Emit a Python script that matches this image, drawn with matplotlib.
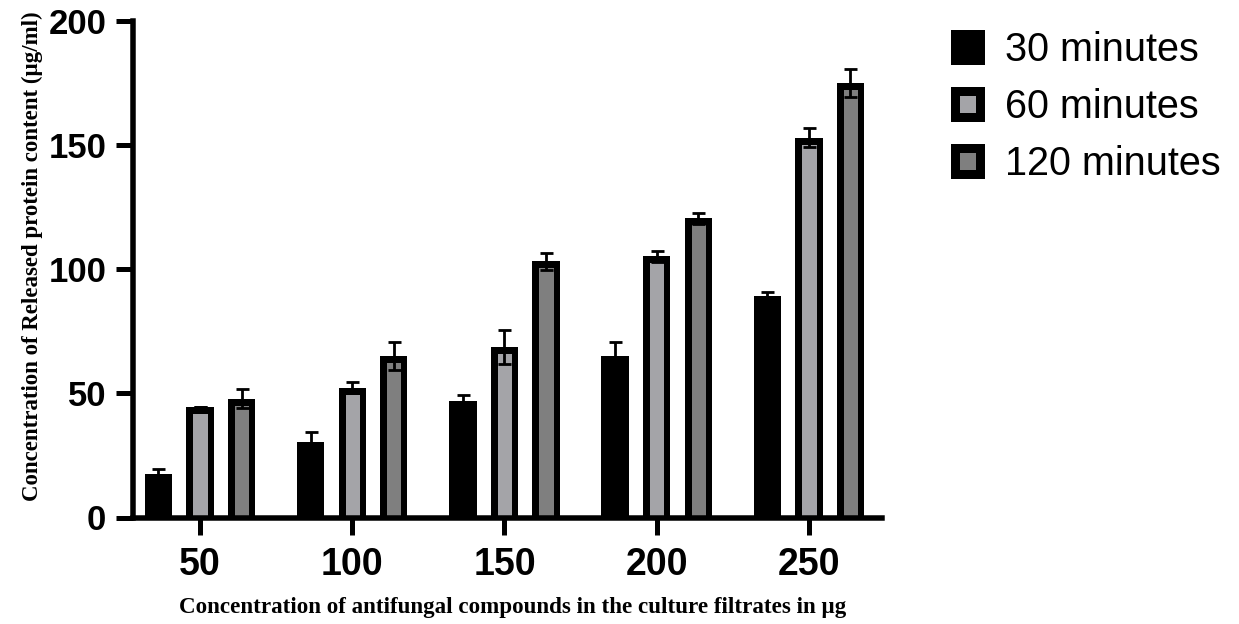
import matplotlib
matplotlib.use("Agg")
import matplotlib.pyplot as plt
import numpy as np
from matplotlib.patches import Rectangle
from matplotlib.transforms import TransformedPatchPath

concentrations = ["50", "100", "150", "200", "250"]
series_names = ["30 minutes", "60 minutes", "120 minutes"]
vals_30 = [17.7, 30.5, 47.0, 65.0, 89.2]
vals_60 = [44.6, 52.2, 68.7, 105.2, 153.0]
vals_120 = [47.8, 65.0, 103.2, 120.5, 175.0]
err_30 = [2.0, 4.0, 2.2, 5.5, 1.8]
err_60 = [0.0, 2.2, 7.0, 2.2, 3.8]
err_120 = [3.8, 5.5, 3.4, 2.2, 5.8]
y_ticks = [0, 50, 100, 150, 200]

fills = ["#000000", "#a4a4a8", "#7f7f7f"]

fig = plt.figure(figsize=(12.39, 6.24), dpi=100)
ax = fig.add_axes([133/1239, 1-517.5/624, (882-133)/1239, (517.5-21)/624])

x = np.arange(len(concentrations))
width = 0.18
offset = 0.273
hidden_base = -4.0  # extends bar below the axis so the inner border at the bottom is clipped away
series = [(vals_30, err_30), (vals_60, err_60), (vals_120, err_120)]
px = 72/100
for i, (v, e) in enumerate(series):
    pos = x + (i-1)*offset
    heights = np.array(v) - hidden_base
    bars = ax.bar(pos, heights, width, bottom=hidden_base, color=fills[i],
                  edgecolor="black", linewidth=13*px, zorder=2)
    for b in bars:
        b.set_clip_path(TransformedPatchPath(b))
        b.set_clip_box(ax.bbox)
    ax.errorbar(pos, v, yerr=e, fmt="none", ecolor="black",
                elinewidth=2.8*px, capsize=6.5*px, capthick=2.8*px, zorder=3)

ax.set_xlim(-0.44, 4.48)
ax.set_ylim(0, 200)
ax.set_yticks(y_ticks)
ax.set_xticks(x)
ax.set_xticklabels(concentrations)
for s in ["top", "right"]:
    ax.spines[s].set_visible(False)
for s in ["left", "bottom"]:
    ax.spines[s].set_linewidth(5.5*px)
    ax.spines[s].set_zorder(4)
ax.tick_params(axis="both", width=5*px, length=17*px, color="black")
ax.tick_params(axis="y", pad=7)
ax.tick_params(axis="x", pad=9)
for lab in ax.get_yticklabels():
    lab.set_fontfamily("Liberation Sans")
    lab.set_fontweight("bold")
    lab.set_fontsize(25)
for lab in ax.get_xticklabels():
    lab.set_fontfamily("Liberation Sans")
    lab.set_fontweight("bold")
    lab.set_fontsize(27)

fig.text(32/1239, 1-256/624, "Concentration of Released protein content (µg/ml)",
         rotation=90, ha="center", va="center", fontfamily="Liberation Serif",
         fontweight="bold", fontsize=16.5)
fig.text(513/1239, 1-608/624, "Concentration of antifungal compounds in the culture filtrates in µg",
         ha="center", va="center", fontfamily="Liberation Serif",
         fontweight="bold", fontsize=16.6)

handles = [Rectangle((0, 0), 1, 1, facecolor=fills[i], edgecolor="black",
                     linewidth=9*px) for i in range(3)]
leg = fig.legend(handles, series_names, loc="upper left",
                 bbox_to_anchor=(955/1239, 1-31/624), frameon=False,
                 prop={"family": "Liberation Sans", "size": 28.5},
                 handlelength=0.62, handleheight=0.62, handletextpad=0.65,
                 labelspacing=0.48, borderpad=0, borderaxespad=0)

fig.savefig("out.png", dpi=100)
